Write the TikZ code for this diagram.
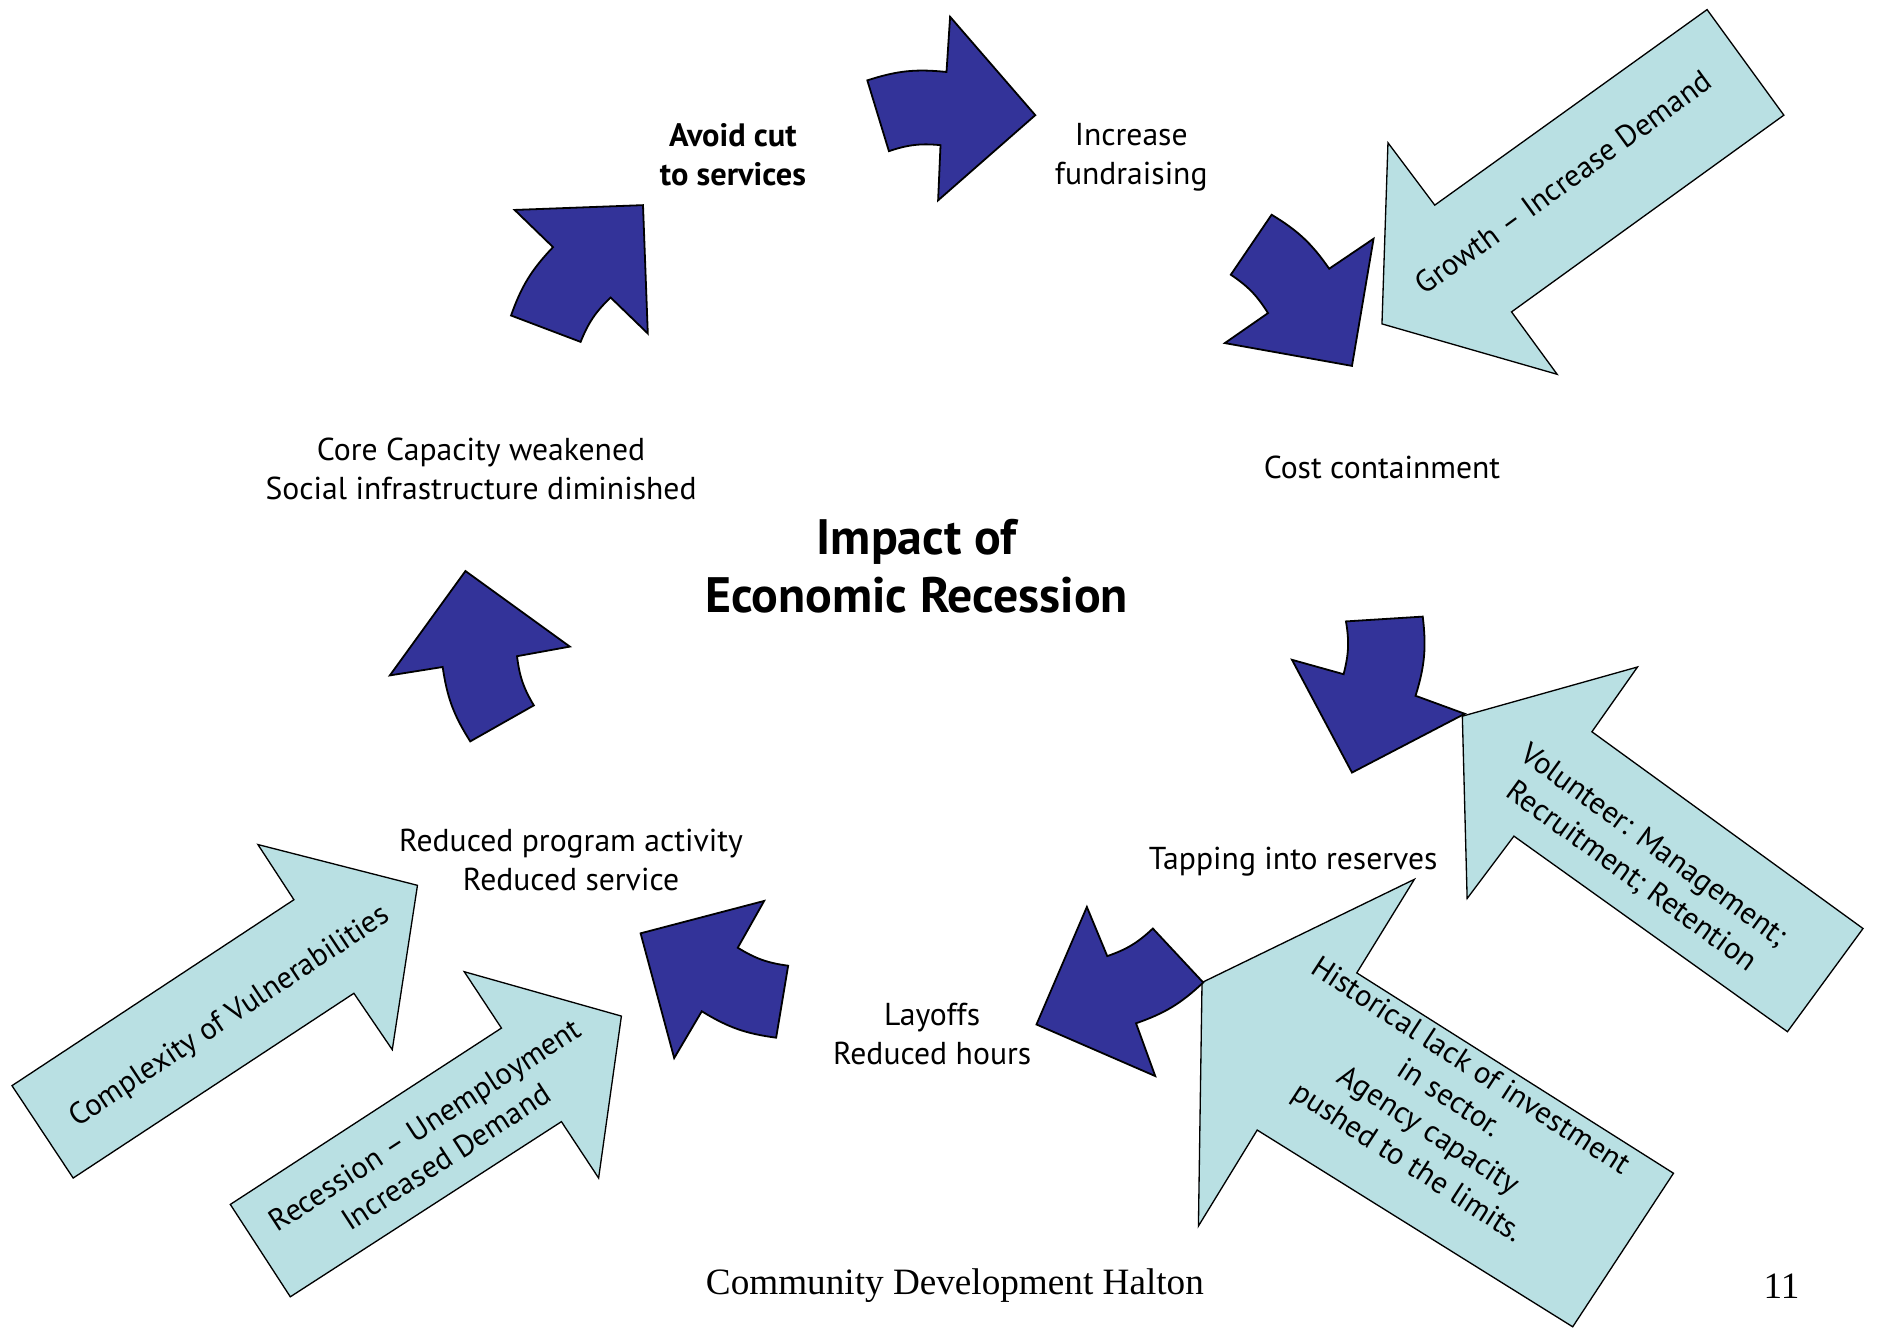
\documentclass[tikz,border=0pt]{standalone}
\usepackage{fontspec}
\setmainfont{PT Sans}
\newfontfamily\footfont{Liberation Serif}
\definecolor{cycleblue}{RGB}{51,51,153}
\definecolor{pushcyan}{RGB}{185,224,227}
\tikzset{
  cyclearrow/.style={draw=black,line width=1.5pt,fill=cycleblue},
  pusharrow/.style={draw=black,line width=1.1pt,fill=pushcyan},
  stage/.style={align=center,font=\fontsize{26.4}{32}\selectfont},
  pushtext/.style={align=center,font=\fontsize{25.5}{32}\selectfont}
}
\begin{document}
\begin{tikzpicture}[x=1pt,y=-1pt]
\useasboundingbox (0,0) rectangle (1568,1109);

% pressures from outside
\draw[pusharrow] (1423,8) -- (1487,96) -- (1260,260) -- (1298,312) -- (1152,270) -- (1157,119) -- (1196,171) -- cycle;
\draw[pusharrow] (1219,597) -- (1365,556) -- (1327,610) -- (1553,774) -- (1490,860) -- (1262,697) -- (1223,749) -- cycle;
\draw[pusharrow] (1002,819) -- (1179,733) -- (1131,811) -- (1395,978) -- (1311,1106) -- (1048,942) -- (999,1022) -- cycle;
\draw[pusharrow] (215,704) -- (348,738) -- (327,875) -- (295,828) -- (61,982) -- (10,905) -- (245,750) -- cycle;
\draw[pusharrow] (387,810) -- (518,847) -- (499,982) -- (468,935) -- (242,1081) -- (192,1004) -- (418,857) -- cycle;

\node[pushtext,rotate=36] (growth) at (1303,152) {Growth -- Increase Demand};
\node[pushtext,rotate=-36] (volunteer) at (1369,718) {Volunteer: Management;\\Recruitment; Retention};
\node[pushtext,rotate=-33] (historical) at (1199,930) {Historical lack of investment\\in sector.\\Agency capacity\\pushed to the limits.};
\node[pushtext,rotate=33.5] (complexity) at (192,848) {Complexity of Vulnerabilities};
\node[pushtext,rotate=33] (recession) at (363,951) {Recession -- Unemployment\\Increased Demand};

% the cycle
\draw[cyclearrow] (325,563) -- (388,476) -- (475,539) -- (431,547) to[bend right=12] (445,588) -- (392,618) to[bend left=12] (369,556) -- cycle;
\draw[cyclearrow] (429,175) -- (536,171) -- (540,278) -- (509,248) to[bend right=12] (484,285) -- (426,263) to[bend left=12] (461,206) -- cycle;
\draw[cyclearrow] (792,14) -- (863,96) -- (782,167) -- (784,121) to[bend right=12] (741,126) -- (723,67) to[bend left=12] (789,60) -- cycle;
\draw[cyclearrow] (1145,199) -- (1127,305) -- (1021,286) -- (1057,261) to[bend right=12] (1026,229) -- (1060,179) to[bend left=12] (1108,224) -- cycle;
\draw[cyclearrow] (1221,595) -- (1127,644) -- (1077,550) -- (1120,562) to[bend right=12] (1122,518) -- (1186,514) to[bend left=12] (1180,580) -- cycle;
\draw[cyclearrow] (963,897) -- (864,854) -- (906,756) -- (923,797) to[bend right=12] (961,774) -- (1003,819) to[bend left=12] (947,853) -- cycle;
\draw[cyclearrow] (562,882) -- (534,778) -- (637,751) -- (615,790) to[bend right=12] (657,805) -- (647,865) to[bend left=12] (585,843) -- cycle;

\node[stage,font=\fontsize{27}{32}\selectfont\bfseries] (avoid) at (611,129) {Avoid cut\\to services};
\node[stage] (fund) at (943,131) {Increase\\fundraising};
\node[stage] (cost) at (1152,390) {Cost containment};
\node[stage] (core) at (401,391) {Core Capacity weakened\\Social infrastructure diminished};
\node[stage] (tap) at (1078,718) {Tapping into reserves};
\node[stage] (program) at (476,717) {Reduced program activity\\Reduced service};
\node[stage] (layoffs) at (777,862) {Layoffs\\Reduced hours};
\node[align=center,font=\fontsize{41.5}{48}\selectfont\bfseries] (impact) at (764,472) {Impact of\\Economic Recession};

\node[font=\footfont\fontsize{31}{36}\selectfont] (footer) at (796,1072) {Community Development Halton};
\node[font=\footfont\fontsize{31}{36}\selectfont] (page) at (1485,1072) {11};
\end{tikzpicture}
\end{document}
